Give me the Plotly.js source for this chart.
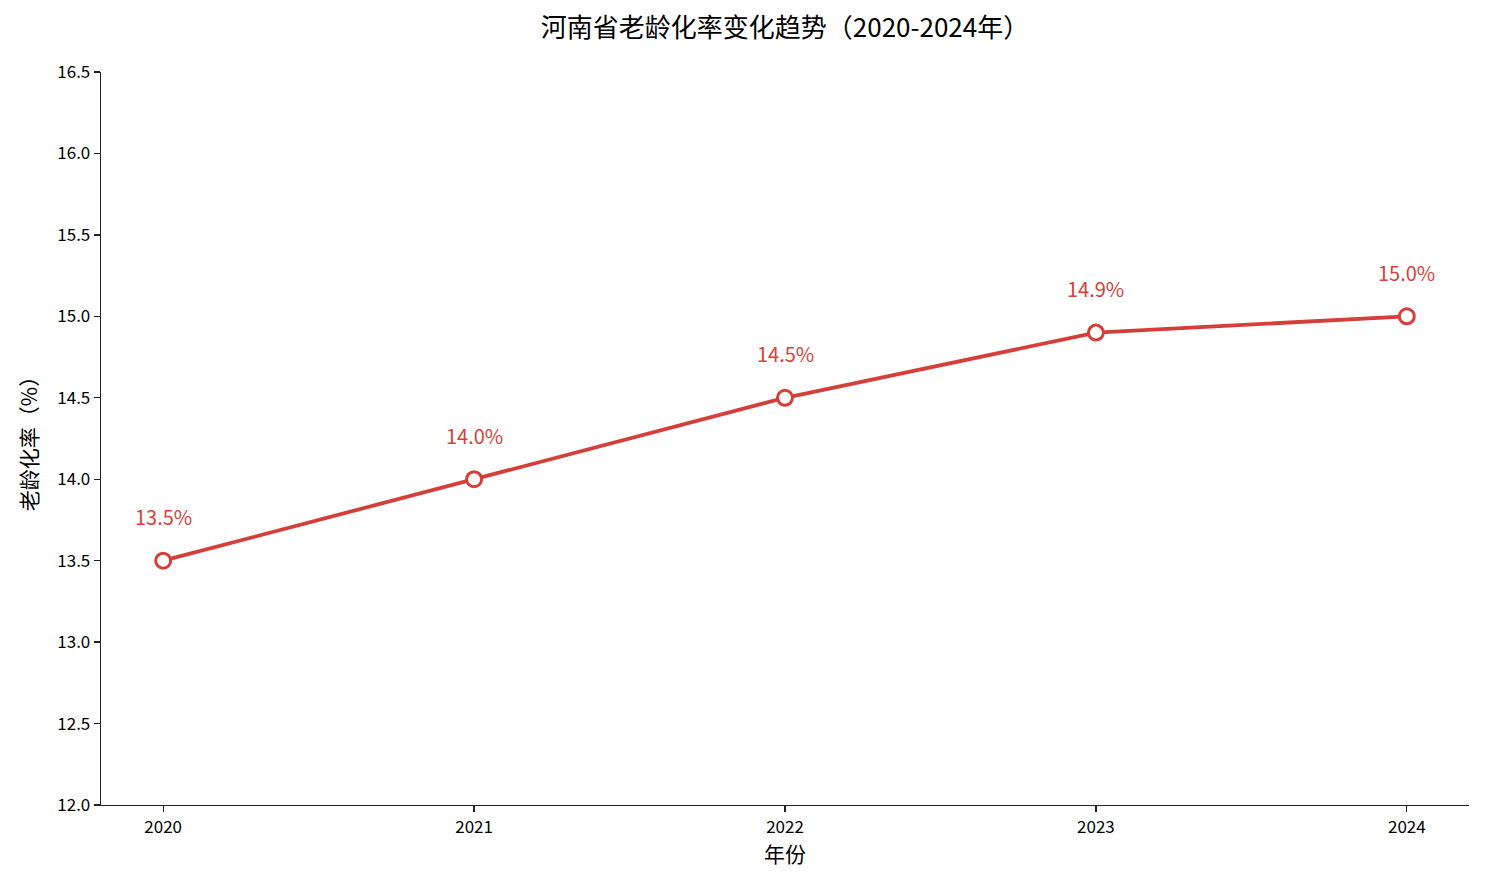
<!DOCTYPE html>
<html>
<head>
<meta charset="utf-8">
<script src="https://cdn.plot.ly/plotly-3.0.1.min.js"></script>
<style>body{margin:0;background:#fff}</style>
</head>
<body>
<div id="chart" style="width:1485px;height:885px"></div>
<script>
var years = [2020, 2021, 2022, 2023, 2024];
var agingRate = [13.5, 14.0, 14.5, 14.9, 15.0];
var yTicks = [12.0, 12.5, 13.0, 13.5, 14.0, 14.5, 15.0, 15.5, 16.0, 16.5];

var font = '"Noto Sans CJK SC", "DejaVu Sans", sans-serif';
var red = '#d43f3a';

var trace = {
    x: years,
    y: agingRate,
    mode: 'lines+markers',
    type: 'scatter',
    line: { color: red, width: 3.8 },
    marker: {
        color: '#ffffff',
        size: 15,
        line: { color: red, width: 3 }
    },
    hoverinfo: 'skip'
};

// value labels above each point
var labels = [];
for (var i = 0; i < years.length; i++) {
    labels.push({
        x: years[i],
        y: agingRate[i],
        text: agingRate[i].toFixed(1) + '%',
        showarrow: false,
        yshift: 44,
        font: { family: font, size: 20, color: '#d9413a' }
    });
}

var layout = {
    width: 1485,
    height: 885,
    margin: { l: 101, r: 16, t: 72, b: 80 },
    paper_bgcolor: '#fff',
    plot_bgcolor: '#fff',
    showlegend: false,
    title: {
        text: '河南省老龄化率变化趋势（2020-2024年）',
        font: { family: font, size: 26, color: '#000' },
        xref: 'paper', x: 0.5, xanchor: 'center',
        y: 0.968, yanchor: 'middle'
    },
    xaxis: {
        range: [2019.8, 2024.2],
        tickvals: years,
        ticktext: years.map(String),
        ticks: 'outside', ticklen: 6, tickwidth: 1.3, tickcolor: '#222',
        showgrid: false, zeroline: false,
        showline: true, linecolor: '#222', linewidth: 1.3,
        tickfont: { family: font, size: 17, color: '#000' },
        title: { text: '年份', font: { family: font, size: 21, color: '#000' }, standoff: 10 }
    },
    yaxis: {
        range: [12.0, 16.5],
        tickvals: yTicks,
        ticktext: yTicks.map(function (v) { return v.toFixed(1); }),
        ticks: 'outside', ticklen: 6, tickwidth: 1.3, tickcolor: '#222',
        showgrid: false, zeroline: false,
        showline: true, linecolor: '#222', linewidth: 1.3,
        tickfont: { family: font, size: 17, color: '#000' },
        title: { text: '老龄化率（%）', font: { family: font, size: 21, color: '#000' }, standoff: 14 }
    },
    annotations: labels
};

Plotly.newPlot('chart', [trace], layout, { displayModeBar: false, staticPlot: true });
</script>
</body>
</html>
